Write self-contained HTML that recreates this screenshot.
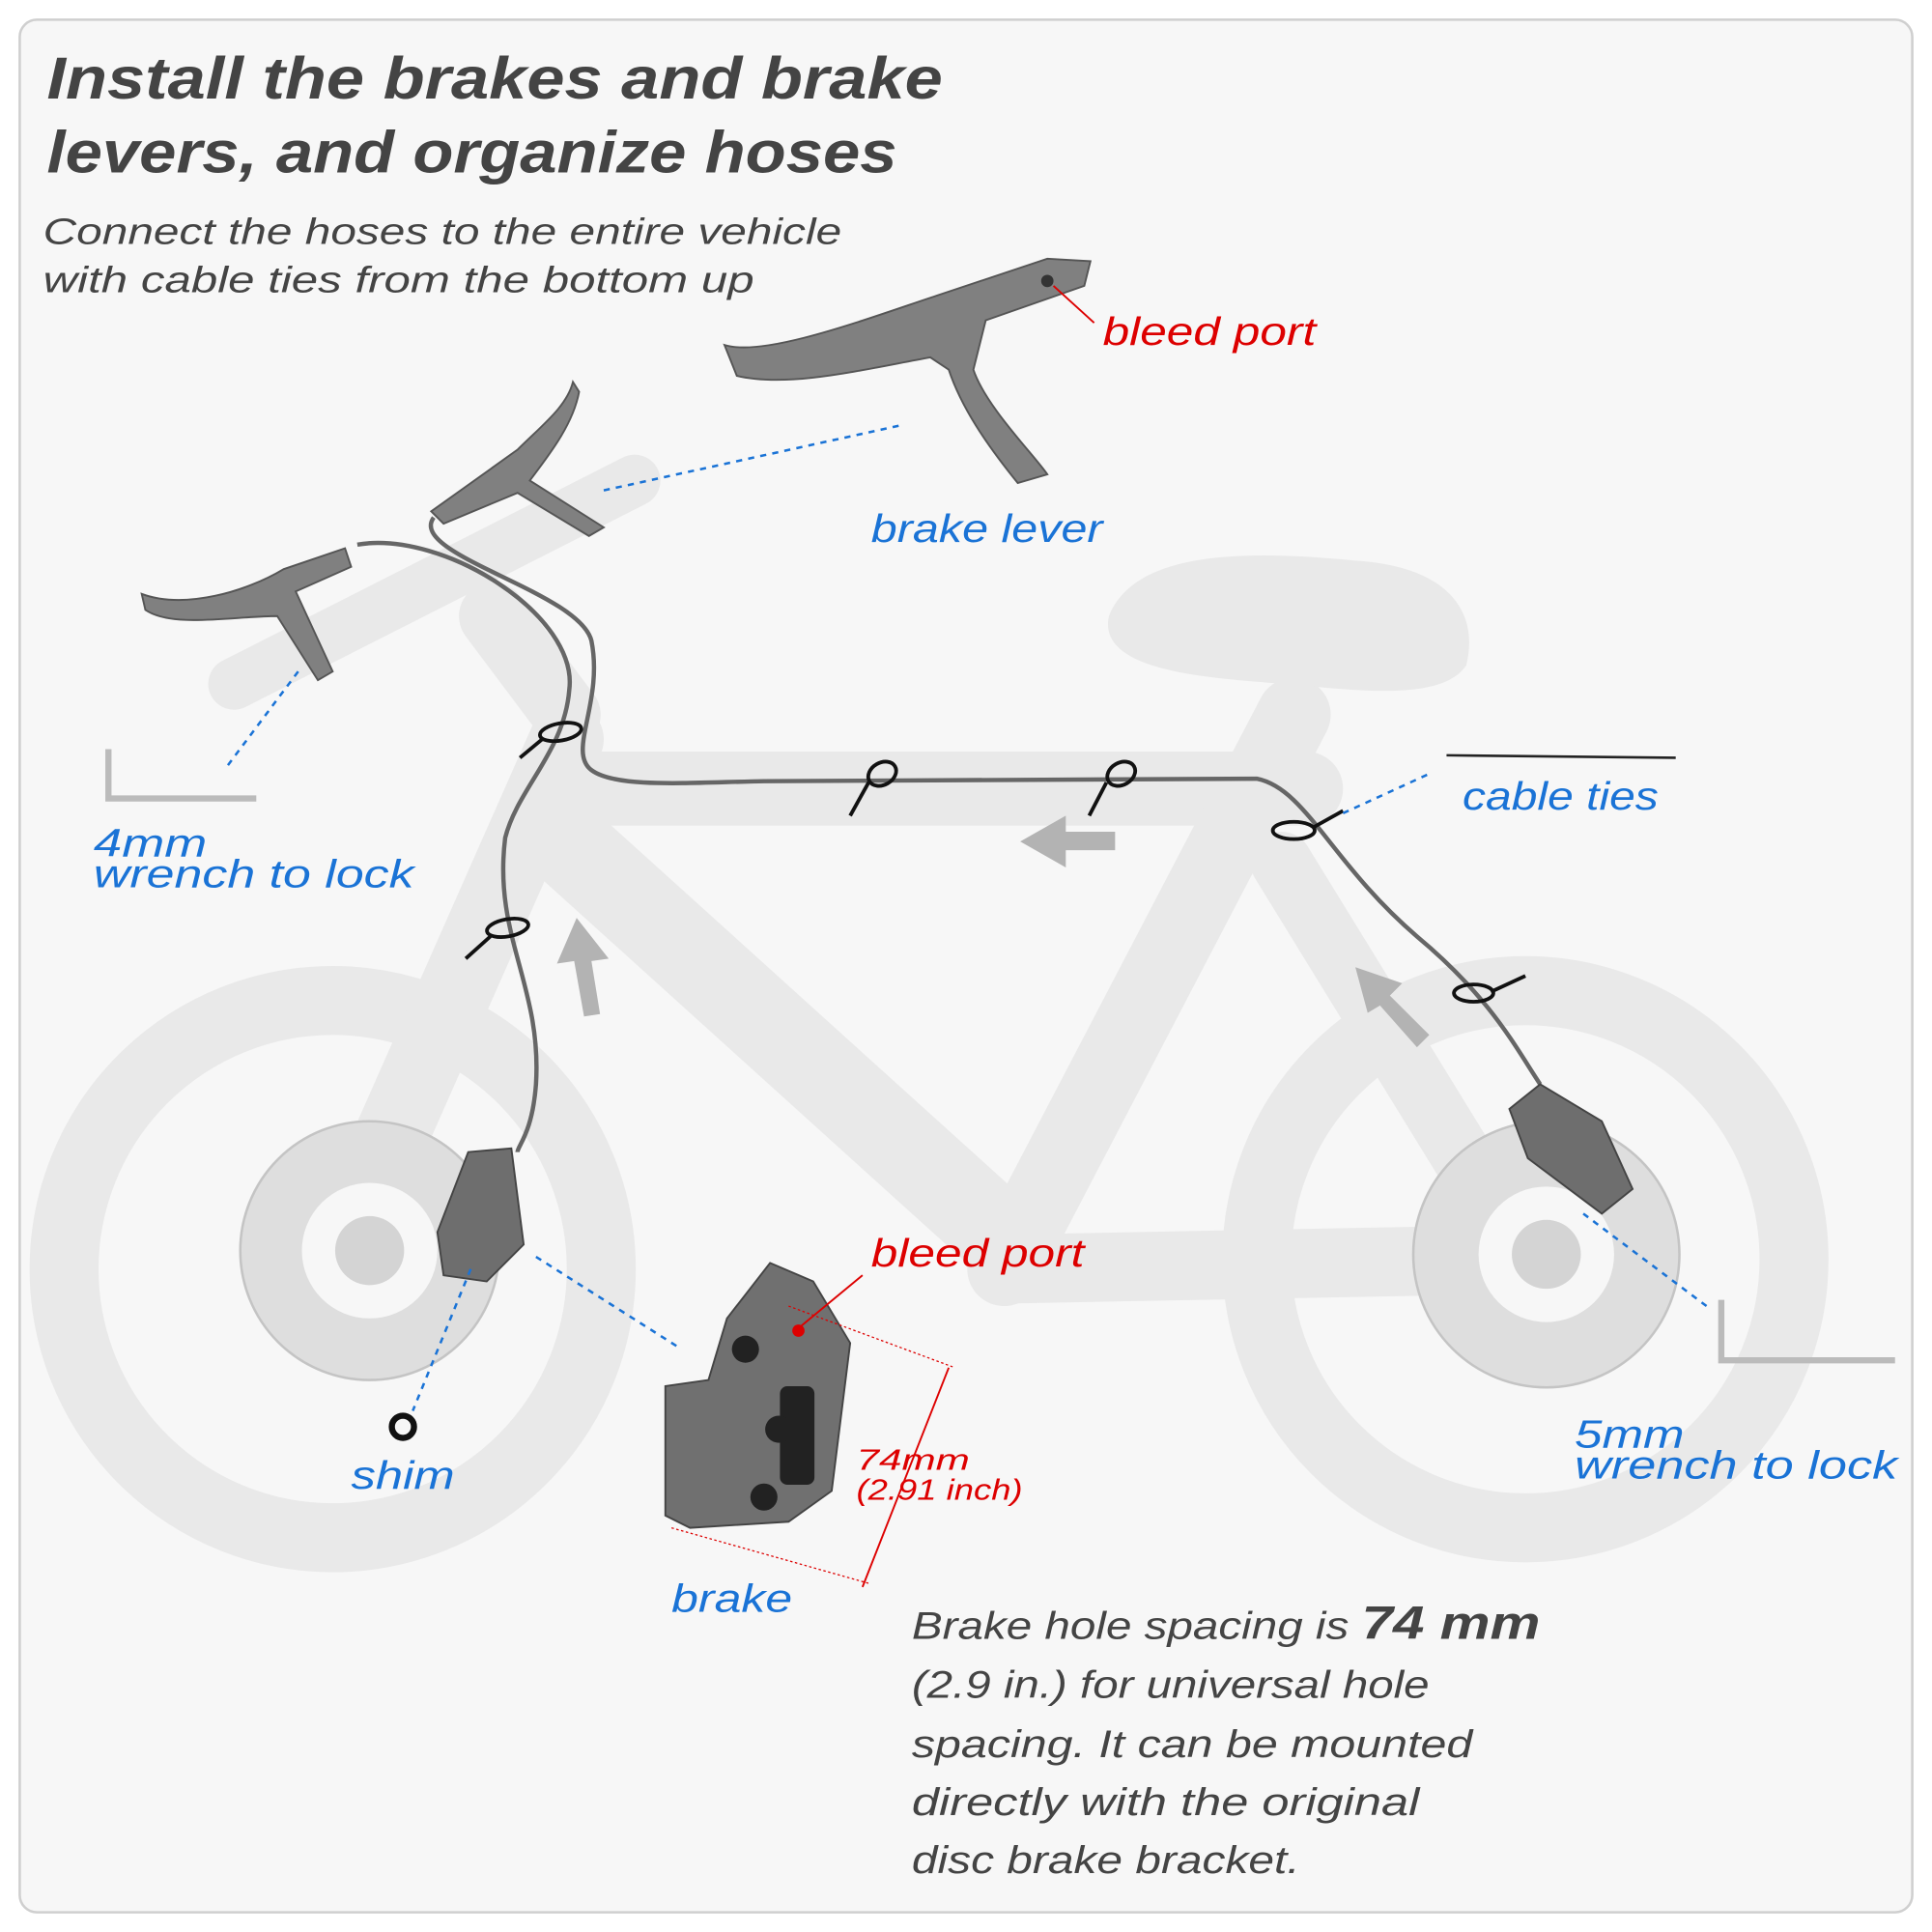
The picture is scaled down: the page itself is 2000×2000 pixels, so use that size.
<!DOCTYPE html>
<html><head><style>
html,body{margin:0;padding:0;background:#fff}
svg{display:block}
text{font-family:"Liberation Sans",sans-serif;font-style:italic}
</style></head><body>
<svg width="2000" height="2000" viewBox="0 0 1568 1568" xmlns="http://www.w3.org/2000/svg">
<rect x="16" y="16" width="1536" height="1536" rx="14" fill="#f7f7f7" stroke="#cfcfcf" stroke-width="2"/>
<g stroke="#e9e9e9" fill="none" stroke-linecap="round" stroke-linejoin="round">
<circle cx="270" cy="1030" r="218" stroke-width="56"/>
<circle cx="1238" cy="1022" r="218" stroke-width="56"/>
<path d="M270 1030 L460 600" stroke-width="60"/>
<path d="M450 640 L1060 640" stroke-width="60"/>
<path d="M455 680 L820 1010" stroke-width="70"/>
<path d="M1050 580 L815 1030" stroke-width="60"/>
<path d="M815 1030 L1238 1022" stroke-width="56"/>
<path d="M1040 700 L1238 1022" stroke-width="50"/>
<path d="M190 555 L515 390" stroke-width="42"/>
<path d="M400 500 L460 580" stroke-width="55"/>
</g>
<path d="M900 500 C920 450 1000 445 1100 455 C1180 460 1200 500 1190 540 C1170 570 1100 560 1040 555 C980 550 890 545 900 500Z" fill="#e9e9e9"/>
<g fill="#b3b3b3">
<path d="M905 675 L865 675 L865 662 L828 683 L865 704 L865 690 L905 690Z"/>
<path d="M474 825 L487 823 L480 780 L494 778 L468 745 L452 782 L466 780Z"/>
<path d="M1150 850 L1160 840 L1128 808 L1138 798 L1100 785 L1110 822 L1120 816Z"/>
</g>
<g stroke="#666" stroke-width="3.5" fill="none">
<path d="M290 442 C360 430 470 500 462 560 C458 610 420 640 410 680 C400 760 440 800 435 880 C432 920 420 930 420 935"/>
<path d="M352 420 C330 450 470 480 480 520 C490 570 460 610 480 625 C500 640 560 635 620 634 L1020 632 C1060 640 1080 700 1150 760 C1210 810 1230 850 1250 880"/>
</g>
<g stroke="#111" stroke-width="3" fill="none">
<ellipse cx="455" cy="594" rx="17" ry="7" transform="rotate(-10 455 594)"/><path d="M440 600 L422 615"/>
<ellipse cx="412" cy="753" rx="17" ry="7" transform="rotate(-10 412 753)"/><path d="M398 760 L378 778"/>
<ellipse cx="716" cy="628" rx="12" ry="9" transform="rotate(-30 716 628)"/><path d="M705 635 L690 662"/>
<ellipse cx="910" cy="628" rx="12" ry="9" transform="rotate(-30 910 628)"/><path d="M898 635 L884 662"/>
<ellipse cx="1050" cy="674" rx="17" ry="7"/><path d="M1065 672 L1090 658"/>
<ellipse cx="1196" cy="806" rx="16" ry="7"/><path d="M1210 805 L1238 792"/>
</g>
<path d="M1174 613 L1360 615" stroke="#222" stroke-width="2"/>
<g fill="#808080" stroke="#555" stroke-width="1.5">
<path d="M115 482 C150 495 200 480 230 462 L280 445 L285 460 L240 480 L270 545 L258 552 L225 500 C190 500 140 510 118 495Z"/>
<path d="M350 415 L420 365 C440 345 460 330 465 310 L470 318 C465 345 445 370 430 390 L490 428 L478 435 L420 400 L360 425Z"/>
<path d="M588 280 C620 290 700 260 760 240 L850 210 L885 212 L880 232 L800 260 L790 300 C800 330 840 370 850 385 L826 392 C800 360 780 330 770 300 L755 290 C700 300 640 315 598 305Z"/>
</g>
<circle cx="850" cy="228" r="5" fill="#333"/>
<g fill="#dedede" stroke="#c4c4c4" stroke-width="2">
<circle cx="300" cy="1015" r="105"/>
<circle cx="1255" cy="1018" r="108"/>
</g>
<g fill="#f7f7f7"><circle cx="300" cy="1015" r="55"/><circle cx="1255" cy="1018" r="55"/></g>
<g fill="#d4d4d4"><circle cx="300" cy="1015" r="28"/><circle cx="1255" cy="1018" r="28"/></g>
<g fill="#6e6e6e" stroke="#444" stroke-width="1.5">
<path d="M355 1000 L380 935 L415 932 L425 1010 L395 1040 L360 1035Z"/>
<path d="M1225 900 L1250 880 L1300 910 L1325 965 L1300 985 L1240 940Z"/>
</g>
<g fill="#707070" stroke="#444" stroke-width="1.5">
<path d="M540 1125 L575 1120 L590 1070 L625 1025 L660 1040 L690 1090 L675 1210 L640 1235 L560 1240 L540 1230Z"/>
</g>
<g fill="#222"><rect x="633" y="1125" width="28" height="80" rx="6"/><circle cx="605" cy="1095" r="11"/><circle cx="632" cy="1160" r="11"/><circle cx="620" cy="1215" r="11"/><circle cx="648" cy="1080" r="5" fill="#d00"/></g>
<g fill="none" stroke="#bbb" stroke-width="5">
<path d="M88 608 L88 648 L208 648"/>
<path d="M1397 1055 L1397 1104 L1538 1104"/>
</g>
<circle cx="327" cy="1158" r="9" fill="none" stroke="#111" stroke-width="5"/>
<g stroke="#1a73d6" stroke-width="2" stroke-dasharray="5,5" fill="none">
<path d="M490 398 L732 345"/>
<path d="M242 545 L182 625"/>
<path d="M1090 660 L1160 628"/>
<path d="M1285 985 L1385 1060"/>
<path d="M435 1020 L550 1093"/>
<path d="M382 1030 L335 1145"/>
</g>
<g stroke="#d00" stroke-width="1.5" fill="none">
<path d="M855 232 L888 262"/>
<path d="M648 1078 L700 1035"/>
<path d="M640 1060 L775 1110 M545 1240 L705 1285" stroke-dasharray="2,2" stroke-width="1"/>
<path d="M770 1110 L700 1288"/>
</g>
<g fill="#444" font-weight="bold" lengthAdjust="spacingAndGlyphs">
<text x="38" y="80" font-size="48" textLength="727" lengthAdjust="spacingAndGlyphs">Install the brakes and brake</text>
<text x="38" y="140" font-size="48" textLength="690" lengthAdjust="spacingAndGlyphs">levers, and organize hoses</text>
</g>
<g fill="#444" font-size="30">
<text x="35" y="198" textLength="648" lengthAdjust="spacingAndGlyphs">Connect the hoses to the entire vehicle</text>
<text x="35" y="237" textLength="577" lengthAdjust="spacingAndGlyphs">with cable ties from the bottom up</text>
</g>
<g fill="#d00" font-size="32">
<text x="895" y="280" textLength="173" lengthAdjust="spacingAndGlyphs">bleed port</text>
<text x="707" y="1028" textLength="173" lengthAdjust="spacingAndGlyphs">bleed port</text>
<text x="695" y="1193" font-size="24" textLength="92" lengthAdjust="spacingAndGlyphs">74mm</text>
<text x="695" y="1217" font-size="24" textLength="135" lengthAdjust="spacingAndGlyphs">(2.91 inch)</text>
</g>
<g fill="#1a73d6" font-size="32">
<text x="707" y="440" textLength="188" lengthAdjust="spacingAndGlyphs">brake lever</text>
<text x="76" y="695" textLength="92" lengthAdjust="spacingAndGlyphs">4mm</text>
<text x="76" y="720" textLength="260" lengthAdjust="spacingAndGlyphs">wrench to  lock</text>
<text x="1187" y="657" textLength="159" lengthAdjust="spacingAndGlyphs">cable ties</text>
<text x="1278" y="1175" textLength="89" lengthAdjust="spacingAndGlyphs">5mm</text>
<text x="1278" y="1200" textLength="262" lengthAdjust="spacingAndGlyphs">wrench to  lock</text>
<text x="285" y="1208" textLength="84" lengthAdjust="spacingAndGlyphs">shim</text>
<text x="545" y="1308" textLength="98" lengthAdjust="spacingAndGlyphs">brake</text>
</g>
<g fill="#444" font-size="31">
<text x="740" y="1330" textLength="510" lengthAdjust="spacingAndGlyphs">Brake hole spacing is <tspan font-weight="bold" font-size="38">74 mm</tspan></text>
<text x="740" y="1378" textLength="420" lengthAdjust="spacingAndGlyphs">(2.9 in.) for universal hole</text>
<text x="740" y="1426" textLength="455" lengthAdjust="spacingAndGlyphs">spacing. It can be mounted</text>
<text x="740" y="1473" textLength="412" lengthAdjust="spacingAndGlyphs">directly with the original</text>
<text x="740" y="1520" textLength="315" lengthAdjust="spacingAndGlyphs">disc brake bracket.</text>
</g>
</svg>
</body></html>
